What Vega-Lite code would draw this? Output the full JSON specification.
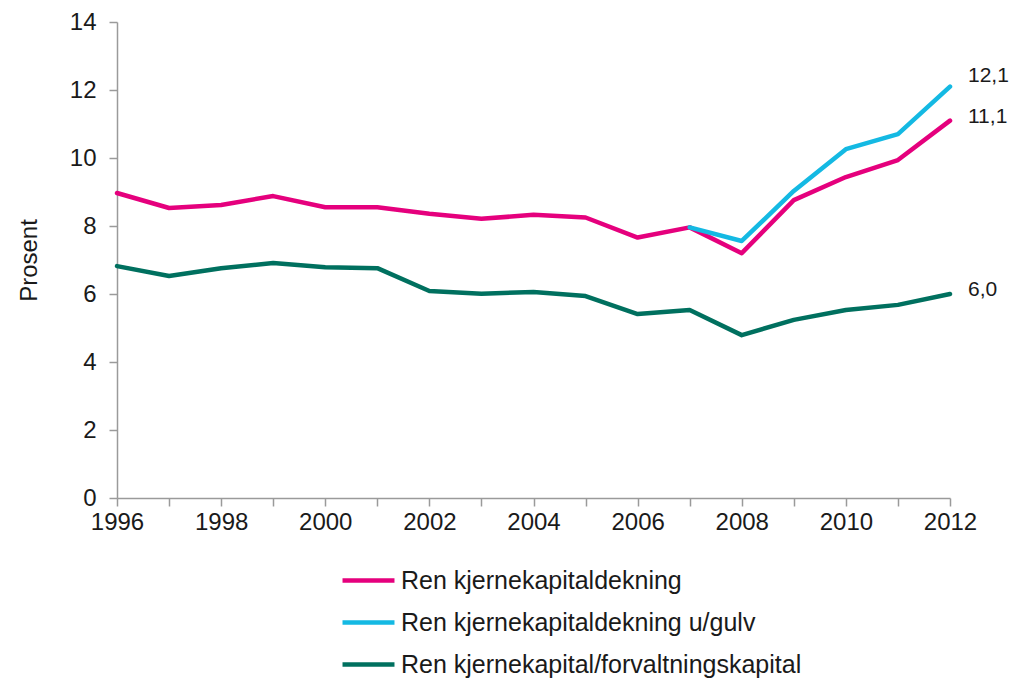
{
  "$schema": "https://vega.github.io/schema/vega-lite/v6.json",
  "width": 833,
  "height": 476,
  "autosize": "none",
  "padding": {"left": 117, "top": 22, "right": 60, "bottom": 180},
  "background": "white",
  "config": {
    "font": "Liberation Sans",
    "view": {"stroke": null}
  },
  "datasets": {
    "series": [
      {"year": 1996, "serie": "Ren kjernekapitaldekning", "value": 8.97},
      {"year": 1997, "serie": "Ren kjernekapitaldekning", "value": 8.53},
      {"year": 1998, "serie": "Ren kjernekapitaldekning", "value": 8.62},
      {"year": 1999, "serie": "Ren kjernekapitaldekning", "value": 8.88},
      {"year": 2000, "serie": "Ren kjernekapitaldekning", "value": 8.55},
      {"year": 2001, "serie": "Ren kjernekapitaldekning", "value": 8.55},
      {"year": 2002, "serie": "Ren kjernekapitaldekning", "value": 8.36},
      {"year": 2003, "serie": "Ren kjernekapitaldekning", "value": 8.21},
      {"year": 2004, "serie": "Ren kjernekapitaldekning", "value": 8.33},
      {"year": 2005, "serie": "Ren kjernekapitaldekning", "value": 8.25},
      {"year": 2006, "serie": "Ren kjernekapitaldekning", "value": 7.66},
      {"year": 2007, "serie": "Ren kjernekapitaldekning", "value": 7.96},
      {"year": 2008, "serie": "Ren kjernekapitaldekning", "value": 7.2},
      {"year": 2009, "serie": "Ren kjernekapitaldekning", "value": 8.76},
      {"year": 2010, "serie": "Ren kjernekapitaldekning", "value": 9.44},
      {"year": 2011, "serie": "Ren kjernekapitaldekning", "value": 9.94},
      {"year": 2012, "serie": "Ren kjernekapitaldekning", "value": 11.1},
      {"year": 2007, "serie": "Ren kjernekapitaldekning u/gulv", "value": 7.96},
      {"year": 2008, "serie": "Ren kjernekapitaldekning u/gulv", "value": 7.56},
      {"year": 2009, "serie": "Ren kjernekapitaldekning u/gulv", "value": 9.03},
      {"year": 2010, "serie": "Ren kjernekapitaldekning u/gulv", "value": 10.26},
      {"year": 2011, "serie": "Ren kjernekapitaldekning u/gulv", "value": 10.7},
      {"year": 2012, "serie": "Ren kjernekapitaldekning u/gulv", "value": 12.1},
      {"year": 1996, "serie": "Ren kjernekapital/forvaltningskapital", "value": 6.82},
      {"year": 1997, "serie": "Ren kjernekapital/forvaltningskapital", "value": 6.53},
      {"year": 1998, "serie": "Ren kjernekapital/forvaltningskapital", "value": 6.76},
      {"year": 1999, "serie": "Ren kjernekapital/forvaltningskapital", "value": 6.91},
      {"year": 2000, "serie": "Ren kjernekapital/forvaltningskapital", "value": 6.79},
      {"year": 2001, "serie": "Ren kjernekapital/forvaltningskapital", "value": 6.76},
      {"year": 2002, "serie": "Ren kjernekapital/forvaltningskapital", "value": 6.09},
      {"year": 2003, "serie": "Ren kjernekapital/forvaltningskapital", "value": 6.01},
      {"year": 2004, "serie": "Ren kjernekapital/forvaltningskapital", "value": 6.06},
      {"year": 2005, "serie": "Ren kjernekapital/forvaltningskapital", "value": 5.94},
      {"year": 2006, "serie": "Ren kjernekapital/forvaltningskapital", "value": 5.41},
      {"year": 2007, "serie": "Ren kjernekapital/forvaltningskapital", "value": 5.53},
      {"year": 2008, "serie": "Ren kjernekapital/forvaltningskapital", "value": 4.79},
      {"year": 2009, "serie": "Ren kjernekapital/forvaltningskapital", "value": 5.24},
      {"year": 2010, "serie": "Ren kjernekapital/forvaltningskapital", "value": 5.53},
      {"year": 2011, "serie": "Ren kjernekapital/forvaltningskapital", "value": 5.68},
      {"year": 2012, "serie": "Ren kjernekapital/forvaltningskapital", "value": 6.0}
    ],
    "labels": [
      {"year": 2012, "value": 12.1, "label": "12,1", "group": "top"},
      {"year": 2012, "value": 11.1, "label": "11,1", "group": "mid"},
      {"year": 2012, "value": 6.0, "label": "6,0", "group": "mid"}
    ]
  },
  "layer": [
    {
      "data": {"name": "series"},
      "mark": {"type": "line", "strokeWidth": 4.5, "strokeJoin": "round", "strokeCap": "round"},
      "encoding": {
        "x": {
          "field": "year", "type": "quantitative",
          "scale": {"domain": [1996, 2012], "nice": false, "zero": false},
          "axis": {
            "title": null,
            "values": [1996,1997,1998,1999,2000,2001,2002,2003,2004,2005,2006,2007,2008,2009,2010,2011,2012],
            "labelExpr": "datum.value % 2 == 0 ? format(datum.value, 'd') : ''",
            "grid": false,
            "domainColor": "#9a9a9a",
            "domainWidth": 1.5,
            "tickColor": "#9a9a9a",
            "tickSize": 8,
            "tickWidth": 1.5,
            "labelFontSize": 24,
            "labelColor": "#1a1a1a",
            "labelPadding": 4,
            "labelFlush": false
          }
        },
        "y": {
          "field": "value", "type": "quantitative",
          "scale": {"domain": [0, 14], "nice": false},
          "axis": {
            "title": "Prosent",
            "titleFontSize": 24,
            "titleFontWeight": "normal",
            "titleColor": "#1a1a1a",
            "titlePadding": 28,
            "values": [0,2,4,6,8,10,12,14],
            "grid": false,
            "domainColor": "#9a9a9a",
            "domainWidth": 1.5,
            "tickColor": "#9a9a9a",
            "tickSize": 8,
            "tickWidth": 1.5,
            "labelFontSize": 24,
            "labelColor": "#1a1a1a",
            "labelPadding": 13
          }
        },
        "color": {
          "field": "serie", "type": "nominal",
          "scale": {
            "domain": ["Ren kjernekapitaldekning", "Ren kjernekapitaldekning u/gulv", "Ren kjernekapital/forvaltningskapital"],
            "range": ["#E5007D", "#14B9E3", "#00705F"]
          },
          "sort": ["Ren kjernekapitaldekning", "Ren kjernekapitaldekning u/gulv", "Ren kjernekapital/forvaltningskapital"],
          "legend": {
            "title": null,
            "orient": "none",
            "legendX": 223,
            "legendY": 530,
            "direction": "vertical",
            "symbolType": "stroke",
            "symbolSize": 2700,
            "symbolStrokeWidth": 4.5,
            "labelFontSize": 25,
            "labelColor": "#1a1a1a",
            "labelOffset": 4,
            "rowPadding": -10,
            "labelLimit": 700
          }
        }
      }
    },
    {
      "data": {"name": "labels"},
      "transform": [{"filter": "datum.group == 'top'"}],
      "mark": {"type": "text", "align": "left", "baseline": "middle", "dx": 18, "dy": -11, "fontSize": 21, "color": "#1a1a1a"},
      "encoding": {
        "x": {"field": "year", "type": "quantitative"},
        "y": {"field": "value", "type": "quantitative"},
        "text": {"field": "label"}
      }
    },
    {
      "data": {"name": "labels"},
      "transform": [{"filter": "datum.group == 'mid'"}],
      "mark": {"type": "text", "align": "left", "baseline": "middle", "dx": 18, "dy": -4, "fontSize": 21, "color": "#1a1a1a"},
      "encoding": {
        "x": {"field": "year", "type": "quantitative"},
        "y": {"field": "value", "type": "quantitative"},
        "text": {"field": "label"}
      }
    }
  ]
}
